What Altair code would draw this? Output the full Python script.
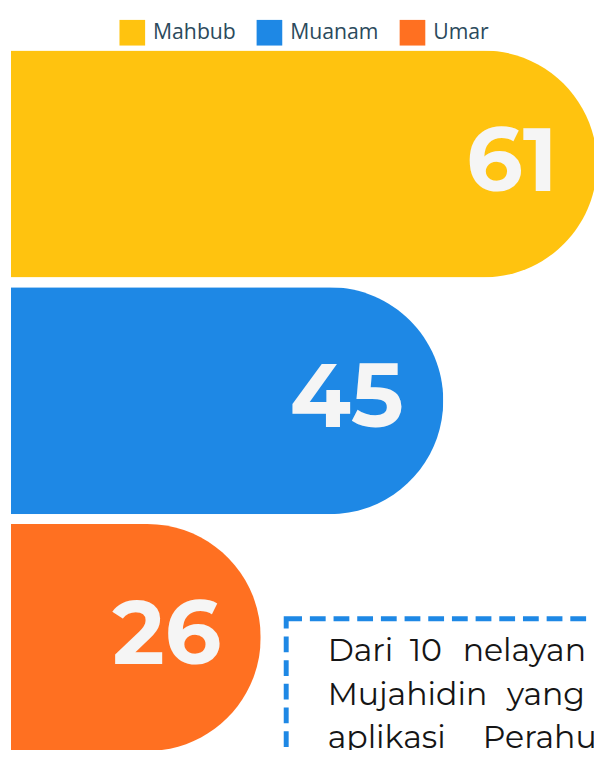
import altair as alt
import pandas as pd

names = ["Mahbub", "Muanam", "Umar"]
values = [61, 45, 26]
colors = ["#FFC30F", "#1E88E5", "#FF7021"]
note_lines = [
    "Dari \u00a010 \u00a0\u2009nelayan",
    "Mujahidin \u00a0\u200ayang",
    "aplikasi \u00a0\u00a0\u00a0\u2009Perahu",
]

df = pd.DataFrame({"name": names, "value": values})

x = alt.X("value:Q", scale=alt.Scale(domain=[0, 61], range=[0, 594], nice=False, zero=True), axis=None)
y = alt.Y("name:N", sort=names,
          scale=alt.Scale(range=[0, 710], paddingInner=10 / 240, paddingOuter=0), axis=None)
color = alt.Color(
    "name:N", sort=names,
    scale=alt.Scale(domain=names, range=colors),
    legend=alt.Legend(
        orient="none", legendX=110, legendY=-31, direction="horizontal",
        title=None, symbolType="square", symbolSize=676, symbolStrokeWidth=0,
        symbolOpacity=1, labelFontSize=21.5, labelColor="#2B4A5C",
        labelFont="Open Sans", columnPadding=21, labelOffset=8, padding=0,
    ),
)

bars = alt.Chart(df).mark_bar(cornerRadiusEnd=115).encode(x=x, y=y, color=color)

labels = alt.Chart(df).mark_text(
    align="right", baseline="middle", dx=-40, fontSize=90,
    fontWeight="bold", font="Montserrat, Lato", color="#F5F5F5",
).encode(x=x, y=y, text="value:Q")

one = pd.DataFrame({"k": [1]})

box = alt.Chart(one).mark_rect(
    fill="white", fillOpacity=0, stroke="#1E88E5", strokeWidth=5,
    strokeDash=[16, 8],
).encode(x=alt.value(279), x2=alt.value(800), y=alt.value(576), y2=alt.value(900))

note = alt.Chart(one).mark_text(
    text=note_lines, align="left", baseline="alphabetic", fontSize=32,
    lineHeight=44, font="Montserrat, DejaVu Sans", color="#151515",
).encode(x=alt.value(321), y=alt.value(619))

chart = alt.layer(bars, labels, box, note).properties(
    width=591, height=704,
    padding={"left": 3, "top": 38, "right": 0, "bottom": 0},
    autosize=alt.AutoSizeParams(type="none"),
).configure_view(stroke=None)

chart.save("out.html", embed_options={"renderer": "svg", "actions": False})
